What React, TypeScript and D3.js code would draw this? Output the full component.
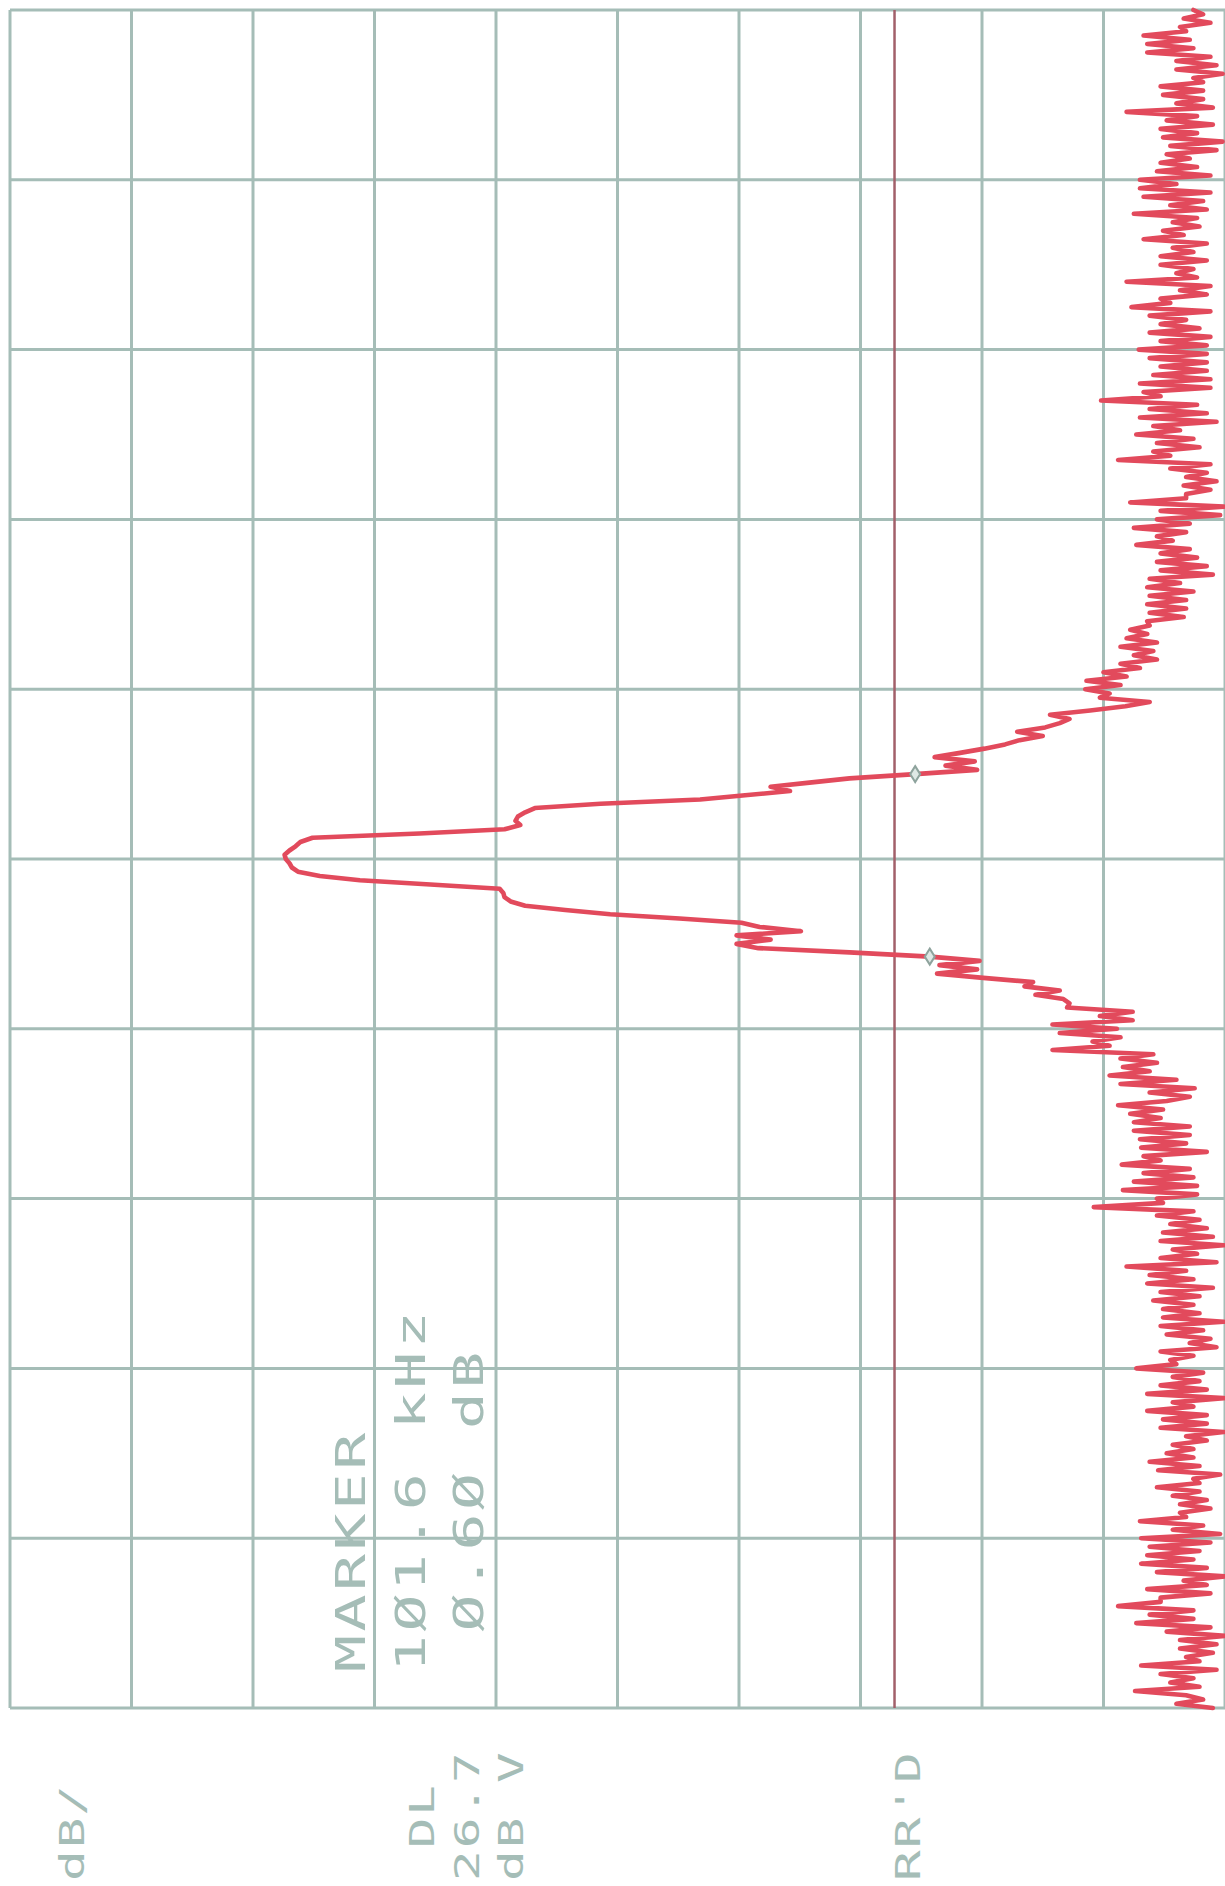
import React from "react";
import * as d3 from "d3";

// Trace amplitude in dB relative to reference level (left edge), read bottom (start) -> top (stop)
const noiseLow = [
  -99.0, -96.0, -98.2, -96.8, -92.6, -97.9, -95.5, -97.4, -94.7, -99.3,
  -93.1, -97.9, -96.8, -99.0, -96.3, -99.3, -96.3, -100, -95.2, -98.8,
  -92.7, -97.4, -93.8, -97.4, -91.2, -94.7, -94.7, -98.8, -93.6, -98.5,
  -96.6, -100, -94.4, -98.5, -93.1, -97.4, -93.6, -97.9, -93.8, -98.8,
  -93.1, -99.6, -95.7, -98.2, -93.0, -96.8, -96.3, -98.8, -96.3, -98.5,
  -95.7, -97.9, -94.4, -97.9, -97.4, -99.6, -94.5, -97.9, -93.8, -97.4,
  -95.2, -97.4, -95.7, -98.5, -96.8, -99.9, -94.7, -98.5, -94.9, -98.5,
  -93.6, -97.4,
  -95.7, -99.9, -93.6, -98.5, -94.7, -97.9, -95.7, -98.2, -92.7, -96.0,
  -95.5, -97.4, -94.7, -99.3, -97.1, -98.8, -95.2, -98.2, -94.7, -99.9,
  -94.9, -97.9, -94.9, -97.4, -94.1, -97.9, -94.7, -99.0, -93.6, -97.4,
  -93.8, -96.8, -91.9, -99.3, -94.7, -97.7, -95.7, -99.9, -94.7, -99.0,
  -94.9, -98.5, -95.5, -97.9, -94.4, -97.4, -89.2, -94.9, -94.4, -97.7,
  -91.6, -97.7, -92.5, -97.4, -93.3, -97.1, -91.5, -94.7, -93.3, -98.5,
  -93.1, -96.8, -93.0, -97.1, -92.5, -97.1, -92.5, -94.7, -92.2, -94.9,
  -91.2, -95.2,
];

const signalSkirt = [
  -97.1, -93.8, -97.5, -91.4, -96.0, -90.5, -93.8, -91.6, -94.4, -91.4,
  -94.1, -85.8, -90.5, -89.1, -91.4, -86.4, -91.1, -85.8, -92.4, -89.7,
  -92.4, -87.0, -87.2, -86.7, -84.4, -86.4, -83.5, -84.2, -80.1, -76.3,
  -79.6, -76.5, -79.8, -75.7, -69.1, -61.6, -59.8, -62.6, -59.8, -65.1,
  -61.7, -60.2, -55.1, -49.4, -45.7, -42.4, -41.2, -40.7, -40.6, -40.3,
  -34.6, -28.8, -25.5, -23.7, -23.2, -23.0, -22.7, -22.6, -23.0, -23.5,
  -23.9, -24.9, -33.7, -40.7, -42.0, -41.6, -41.8, -42.4, -43.2, -48.6,
  -56.8, -60.5, -64.2, -62.6, -65.8, -69.1, -74.5, -79.6, -77.0, -79.4,
  -76.1, -78.2, -80.2, -81.9, -83.1, -85.0, -82.9, -85.2, -86.4, -87.2,
  -85.6, -88.9, -91.8, -93.8, -89.7, -90.5, -88.5, -91.4,
];

const noiseHigh = [
  -88.6, -91.9, -90.0, -93.0, -91.4, -94.4, -92.5, -94.1, -91.4, -94.4,
  -91.9, -93.6, -92.2, -93.8, -93.6, -96.6, -93.8, -96.8, -93.6, -96.8,
  -93.8, -97.4, -93.6, -96.3, -93.8, -99.0, -94.7, -98.5, -94.4, -97.7,
  -94.7, -97.1, -92.7, -95.7, -94.4, -96.8, -92.5, -97.1, -94.4, -99.6,
  -94.7, -99.9, -92.2, -96.8, -96.8, -98.8, -96.6, -99.3, -96.8, -98.5,
  -95.5, -98.8, -91.2, -95.5, -94.1, -97.9, -94.4, -97.4, -92.7, -96.3,
  -94.1, -99.3, -93.0, -98.5, -93.8, -97.7, -89.8, -94.7, -93.3, -98.8,
  -93.0, -98.8, -94.1, -98.5, -94.7, -98.5, -93.8, -98.5, -92.9, -98.5,
  -94.7, -98.8, -93.8, -97.9, -94.7, -96.8, -93.8, -98.8, -92.3, -95.5,
  -94.7, -98.5,
  -96.3, -98.8, -91.9, -97.7, -96.0, -97.4, -94.7, -98.5, -94.7, -97.4,
  -95.7, -98.5, -93.3, -96.6, -94.9, -97.9, -95.7, -97.7, -92.5, -98.5,
  -95.5, -98.2, -93.3, -98.8, -93.0, -96.0, -93.0, -98.8, -94.4, -97.7,
  -94.7, -97.1, -95.2, -99.3, -95.5, -99.8, -94.9, -97.7, -94.7, -99.0,
  -95.2, -97.7, -91.9, -99.0, -96.0, -98.2, -94.9, -98.2, -94.7, -98.2,
  -97.4, -99.8, -96.0, -99.3, -96.0, -98.8, -93.6, -97.4, -93.6, -97.1,
  -93.3, -96.8, -96.3, -98.8, -96.6, -98.2, -97.4,
];

const markerIndex = [177, 220];
const displayLine = -72.8;
const amplitudeTicks = [0, -10, -20, -30, -40, -50, -60, -70, -80, -90, -100];
const freqDivisions = [0, 1, 2, 3, 4, 5, 6, 7, 8, 9, 10];

const markerLines = [
  { text: "MARKER", slot: 0 },
  { text: "1Ø1.6 kHz", slot: 0 },
  { text: "Ø.6Ø dB", slot: 1 },
];
const sideLabels = [
  { text: "dB/", slot: 0 },
  { text: "DL", slot: 1 },
  { text: "26.7", slot: 0 },
  { text: "dB V", slot: 0 },
  { text: "RR'D", slot: 0 },
];

const GRID = "#a5bdb7";
const TRACE = "#e24a5c";

export default function App() {
  const trace = [...noiseLow, ...signalSkirt, ...noiseHigh];
  const W = 1225;
  const H = 1886;
  const left = 10, right = 1225, top = 10, bottom = 1708;

  const x = d3.scaleLinear().domain([0, -100]).range([left, right]);
  const y = d3.scaleLinear().domain([0, trace.length - 1]).range([bottom, top]);
  const div = d3.scaleLinear().domain([0, 10]).range([bottom, top]);

  const linePath = d3
    .line<number>()
    .x((d) => x(d))
    .y((_d, i) => y(i))(trace) || "";

  const markerBase = [365, 425, 483];
  const sideBase = [84, 434, 479, 523, 920];

  return (
    <svg
      width={W}
      height={H}
      style={{ position: "absolute", left: 0, top: 0, background: "#fff" }}
    >
      <rect x={0} y={0} width={W} height={H} fill="#fff" />
      <g>
        {amplitudeTicks.map((t) => (
          <line key={"v" + t} x1={x(t)} x2={x(t)} y1={top} y2={bottom} stroke={GRID} strokeWidth={3} />
        ))}
        {freqDivisions.map((d) => (
          <line key={"h" + d} x1={left} x2={right} y1={div(d)} y2={div(d)} stroke={GRID} strokeWidth={3} />
        ))}
      </g>
      <line
        x1={x(displayLine)}
        x2={x(displayLine)}
        y1={top}
        y2={bottom}
        stroke="#a2606a"
        strokeWidth={2.5}
      />
      {markerLines.map((m, i) => (
        <text
          key={"m" + i}
          transform={`translate(${markerBase[i]},${1672 - m.slot * 40.5}) rotate(-90) scale(1.5,1)`}
          fontFamily="DejaVu Sans Mono"
          fontSize={41}
          letterSpacing={2.3}
          fill={GRID}
        >
          {m.text}
        </text>
      ))}
      <path
        d={linePath}
        fill="none"
        stroke={TRACE}
        strokeWidth={4.6}
        strokeLinejoin="round"
        strokeLinecap="round"
      />
      {markerIndex.map((mi) => {
        const cx = x(trace[mi]);
        const cy = y(mi);
        return (
          <path
            key={"mk" + mi}
            d={`M${cx},${cy - 8} L${cx + 5},${cy} L${cx},${cy + 8} L${cx - 5},${cy} Z`}
            fill="#dfe8e5"
            stroke="#8ea39d"
            strokeWidth={2}
          />
        );
      })}
      {sideLabels.map((s, i) => (
        <text
          key={"s" + i}
          transform={`translate(${sideBase[i]},${1881 - s.slot * 32.7}) rotate(-90) scale(1.5,1)`}
          fontFamily="DejaVu Sans Mono"
          fontSize={34}
          letterSpacing={1.3}
          fill={GRID}
        >
          {s.text}
        </text>
      ))}
    </svg>
  );
}
